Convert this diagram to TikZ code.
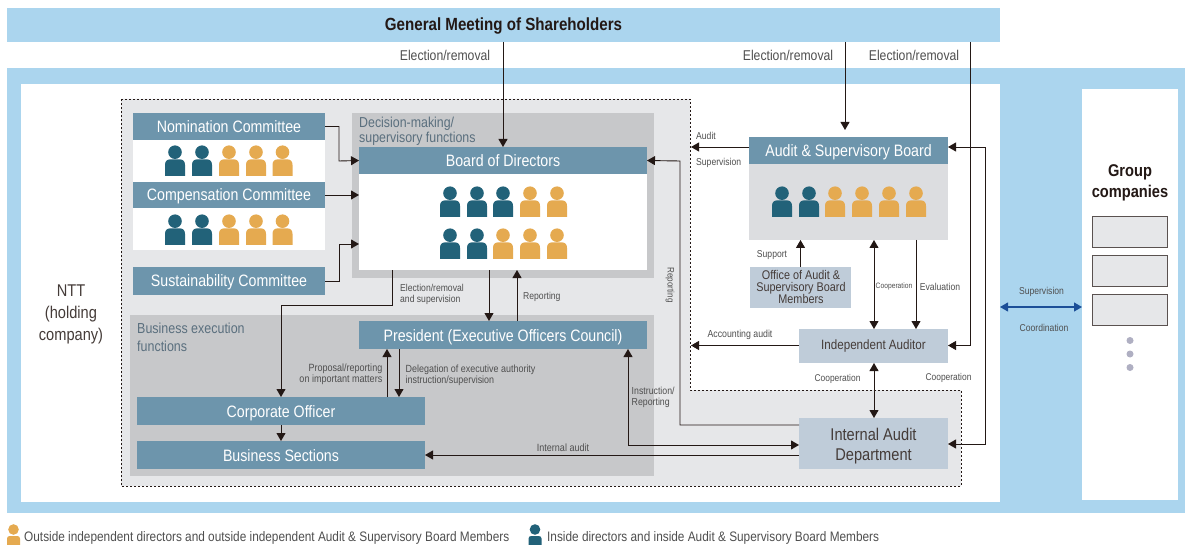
\documentclass[tikz,border=0pt]{standalone}
\usepackage{fontspec}
\setmainfont[FakeStretch=0.86]{Liberation Sans}
\usetikzlibrary{arrows.meta,calc}
\definecolor{skyb}{HTML}{ABD5EE}
\definecolor{hdr}{HTML}{6D95AC}
\definecolor{blockg}{HTML}{C7C8CA}
\definecolor{areag}{HTML}{E6E7E9}
\definecolor{paleg}{HTML}{DCDDE0}
\definecolor{paleb}{HTML}{BFCCD9}
\definecolor{ink}{HTML}{231815}
\definecolor{lbl}{HTML}{4F4F4F}
\definecolor{ttl}{HTML}{5A6F7E}
\definecolor{darkp}{HTML}{226279}
\definecolor{orgp}{HTML}{E5AA50}
\definecolor{bluearr}{HTML}{1C4F98}
\definecolor{dotc}{HTML}{AFAFC2}
\tikzset{
  x=1pt,y=-1pt,
  bx/.style={inner sep=0pt,outer sep=0pt,align=center},
  hdrbox/.style={bx,fill=hdr,text=white,text height=12pt,text depth=0pt,font=\fontsize{16.5}{18}\selectfont},
  whitebox/.style={bx,fill=white},
  blockbox/.style={bx,fill=blockg},
  palebox/.style={bx,fill=paleb,text=ink!85},
  groupbox/.style={bx,fill=areag,draw=ink!75,line width=0.8pt},
  conn/.style={draw=ink,line width=0.9pt,-{Triangle[length=8pt,width=9pt]}},
  conn2/.style={draw=ink,line width=0.9pt,{Triangle[length=8pt,width=9pt]}-{Triangle[length=8pt,width=9pt]}},
  lab/.style={inner sep=0pt,text=lbl,align=center,font=\fontsize{10}{11}\selectfont},
  toplab/.style={lab,font=\fontsize{14.2}{15}\selectfont},
  leglab/.style={lab,anchor=west,font=\fontsize{13.75}{15}\selectfont},
  ttltext/.style={inner sep=0pt,text=ttl,align=left,anchor=north west},
  dot/.style={circle,fill=dotc,inner sep=0pt,minimum size=7pt},
  pics/man/.style={code={
    \fill[#1] (0,-23.8) circle (6.8);
    \fill[#1] (-10,0) -- (-10,-11) .. controls (-10,-15) and (-8,-16.7) .. (-4,-16.7) -- (4,-16.7) .. controls (8,-16.7) and (10,-15) .. (10,-11) -- (10,0) -- cycle;
  }},
  pics/miniman/.style={code={
    \fill[#1] (0,-15.5) circle (5.3);
    \fill[#1] (-6.5,0) -- (-6.5,-6.5) .. controls (-6.5,-8.3) and (-5,-9) .. (-3.5,-9) -- (3.5,-9) .. controls (5,-9) and (6.5,-8.3) .. (6.5,-6.5) -- (6.5,0) -- cycle;
  }},
}
\newcommand{\bxn}[7]{%
  \pgfmathsetmacro{\cxx}{(#3+#5)/2}\pgfmathsetmacro{\cyy}{(#4+#6)/2}%
  \pgfmathsetmacro{\wdd}{#5-#3}\pgfmathsetmacro{\htt}{#6-#4}%
  \node[#1,minimum width=\wdd pt,minimum height=\htt pt] (#2) at (\cxx,\cyy) {#7};}
\begin{document}
\begin{tikzpicture}
\useasboundingbox (0,0) rectangle (1185,545);
\fill[white] (0,0) rectangle (1185,545);
% frames
\bxn{bx,fill=skyb,font=\fontsize{17.6}{17}\bfseries\selectfont,text=ink,text height=10.5pt,text depth=0pt}{gm}{7}{8}{1000}{42}{General Meeting of Shareholders}
\bxn{bx,fill=skyb}{ntt}{7}{68}{1185}{513}{}
\bxn{whitebox}{nttin}{21}{84}{1000}{502}{}
\bxn{whitebox}{grp}{1082}{89}{1178}{500}{}
\fill[areag] (121,99) -- (690,99) -- (690,390) -- (961,390) -- (961,486) -- (121,486) -- cycle;
\draw[ink,line width=0.7pt,dash pattern=on 2pt off 2pt] (121,99) -- (690,99) -- (690,390) -- (961,390) -- (961,486) -- (121,486) -- cycle;
\node[inner sep=0pt,text=ink!85,align=center,font=\fontsize{17}{22}\selectfont] (nttl) at (71,314) {NTT\\(holding\\company)};
% blocks
\bxn{blockbox}{dec}{352}{113}{654}{278}{}
\bxn{blockbox}{bus}{130}{315}{654}{476}{}
\node[ttltext,font=\fontsize{14.4}{14.7}\selectfont] (dect) at (359,117) {Decision-making/\\supervisory functions};
\node[ttltext,font=\fontsize{14.5}{18}\selectfont] (bust) at (137,323) {Business execution\\functions};
% committees
\bxn{whitebox}{nomb}{133}{140}{325}{182}{}
\bxn{whitebox}{comb}{133}{208}{325}{250}{}
\bxn{hdrbox}{nom}{133}{113}{325}{140}{Nomination Committee}
\bxn{hdrbox}{com}{133}{182}{325}{208}{Compensation Committee}
\bxn{hdrbox}{sus}{133}{267}{325}{295}{Sustainability Committee}
% board
\bxn{whitebox}{bdb}{359}{174}{647}{270}{}
\bxn{hdrbox}{bd}{359}{147}{647}{174}{Board of Directors}
\bxn{hdrbox}{pres}{359}{321}{647}{349}{President (Executive Officers Council)}
\bxn{hdrbox}{corp}{137}{397}{425}{425}{Corporate Officer}
\bxn{hdrbox}{sect}{137}{441}{425}{469}{Business Sections}
% audit
\bxn{bx,fill=paleg}{aubody}{749}{164}{948}{240}{}
\bxn{hdrbox}{au}{749}{137}{948}{164}{Audit \& Supervisory Board}
\bxn{palebox}{off}{750}{267}{851}{308}{}
\node[inner sep=0pt,text=ink!85,align=center,font=\fontsize{12.6}{12}\selectfont] (offt) at (801,287) {Office of Audit \&\\Supervisory Board\\Members};
\bxn{palebox,font=\fontsize{13.5}{15}\selectfont,text height=7pt,text depth=0pt}{ind}{799}{329}{948}{363}{Independent Auditor}
\bxn{palebox}{int}{799}{418}{948}{469}{}
\node[inner sep=0pt,text=ink!85,align=center,font=\fontsize{17}{20}\selectfont] (intt) at (873.5,446) {Internal Audit\\Department};
% group companies
\node[inner sep=0pt,text=ink,align=center,font=\fontsize{17}{21}\bfseries\selectfont] (grpt) at (1130,182.5) {Group\\companies};
\bxn{groupbox}{g1}{1092}{216}{1167}{247}{}
\bxn{groupbox}{g2}{1092}{255}{1167}{286}{}
\bxn{groupbox}{g3}{1092}{294}{1167}{325}{}
\node[dot] (d1) at (1130,340.5) {};
\node[dot] (d2) at (1130,354) {};
\node[dot] (d3) at (1130,367.5) {};
% people
\foreach \px in {175,202} {\pic at (\px,176) {man=darkp}; \pic at (\px,245) {man=darkp};}
\foreach \px in {229,256,282.5} {\pic at (\px,176) {man=orgp}; \pic at (\px,245) {man=orgp};}
\foreach \px in {450,477,503} {\pic at (\px,217) {man=darkp};}
\foreach \px in {530,557} {\pic at (\px,217) {man=orgp};}
\foreach \px in {450,477} {\pic at (\px,259) {man=darkp};}
\foreach \px in {503,530,557} {\pic at (\px,259) {man=orgp};}
\foreach \px in {782,809} {\pic at (\px,217) {man=darkp};}
\foreach \px in {835,862,889,916} {\pic at (\px,217) {man=orgp};}
% connectors
\draw[conn] (gm.south -| bd.north) -- (bd.north);
\draw[conn] (gm.south -| 845,0) -- (845,130) coordinate (auin);
\draw[conn] (gm.south -| 970,0) -- (970,345.5) -- (ind.east |- 0,345.5);
\draw[conn] (nom.east) -- (339,126.5) -- (339,161) -- (bd.west);
\draw[conn] (com.east) -- (bdb.west |- 0,195);
\draw[conn] (sus.east) -- (339,281) -- (339,244) -- (bdb.west |- 0,244);
\draw[conn] (bdb.south -| 392,0) -- (392,305) -- (281,305) -- (corp.north);
\draw[conn] (bdb.south -| 489,0) -- (pres.north -| 489,0);
\draw[conn] (pres.north -| 517,0) -- (bdb.south -| 517,0);
\draw[conn] (corp.south) -- (sect.north);
\draw[conn] (corp.north -| 387,0) -- (pres.south -| 387,0);
\draw[conn] (pres.south -| 399,0) -- (corp.north -| 399,0);
\draw[conn2] (pres.south -| 628,0) -- (628,445) -- (int.west |- 0,445);
\draw[conn] (int.west |- 0,455) -- (sect.east |- 0,455);
\draw[conn] (int.west |- 0,425) -- (680,425) -- (680,161) -- (bd.east);
\draw[conn] (au.west |- 0,147) -- (691,147) coordinate (auout);
\draw[conn] (ind.west |- 0,345.5) -- (691,345.5) coordinate (accout);
\draw[conn2] (au.east |- 0,147) -- (985,147) -- (985,444) -- (int.east |- 0,444);
\draw[conn] (off.north) -- (aubody.south -| off.north);
\draw[conn2] (aubody.south -| 874,0) -- (ind.north -| 874,0);
\draw[conn] (aubody.south -| 916,0) -- (ind.north -| 916,0);
\draw[conn2] (ind.south -| 874,0) -- (int.north -| 874,0);
\draw[bluearr,line width=1.1pt,{Triangle[length=8pt,width=9pt]}-{Triangle[length=8pt,width=9pt]}] (nttin.east |- 0,307) -- (grp.west |- 0,307);
% labels
\node[toplab] (l1) at (445,55) {Election/removal};
\node[toplab] (l2) at (788,55) {Election/removal};
\node[toplab] (l3) at (914,55) {Election/removal};
\node[lab,anchor=west] (l4) at (696,135.5) {Audit};
\node[lab,anchor=west] (l5) at (696,162.5) {Supervision};
\node[lab,anchor=north west,align=left] (l6) at (400,284.5) {Election/removal\\and supervision};
\node[lab,anchor=west] (l7) at (523,297) {Reporting};
\node[lab,rotate=-90,font=\fontsize{9.4}{10}\selectfont] (l8) at (670,285) {Reporting};
\node[lab] (l9) at (772,255.5) {Support};
\node[lab,font=\fontsize{7.8}{9}\selectfont] (l10) at (894,286.5) {Cooperation};
\node[lab] (l11) at (940,286.5) {Evaluation};
\node[lab,font=\fontsize{10.2}{11}\selectfont] (l12) at (740,335) {Accounting audit};
\node[lab,font=\fontsize{9.8}{11}\selectfont] (l13) at (837.5,378.5) {Cooperation};
\node[lab,font=\fontsize{9.8}{11}\selectfont] (l14) at (948.5,377.5) {Cooperation};
\node[lab,anchor=north west,align=left,font=\fontsize{10.2}{11}\selectfont] (l15) at (631.5,387) {Instruction/\\Reporting};
\node[lab,font=\fontsize{10.5}{11}\selectfont] (l16) at (563,447.5) {Internal audit};
\node[lab,anchor=north east,align=right,font=\fontsize{10.5}{11}\selectfont] (l17) at (382.5,364) {Proposal/reporting\\on important matters};
\node[lab,anchor=north west,align=left,font=\fontsize{10.4}{10.5}\selectfont] (l18) at (405.5,365) {Delegation of executive authority\\instruction/supervision};
\node[lab] (l19) at (1041.5,291.5) {Supervision};
\node[lab] (l20) at (1044,327.5) {Coordination};
% legend
\pic at (13.5,545) {miniman=orgp};
\node[leglab] (lg1) at (24,538) {Outside independent directors and outside independent Audit \& Supervisory Board Members};
\pic at (535,545) {miniman=darkp};
\node[leglab] (lg2) at (547,538) {Inside directors and inside Audit \& Supervisory Board Members};
\end{tikzpicture}
\end{document}
